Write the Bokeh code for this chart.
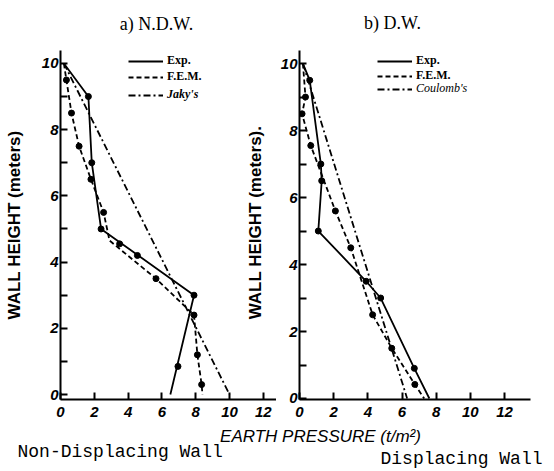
from math import pi
from bokeh.plotting import figure
from bokeh.layouts import column, row
from bokeh.models import Label, Legend, LegendItem, FixedTicker, Range1d
from bokeh.embed import file_html
from bokeh.resources import INLINE

# ---------------- data: a) N.D.W. (non-displacing wall) ----------------
ndw_exp_x = [0.2, 1.65, 1.85, 2.4, 7.9, 6.5]
ndw_exp_y = [10.0, 9.0, 7.0, 5.0, 3.0, 0.0]
ndw_exp_mx = [1.65, 1.85, 2.4, 3.5, 4.55, 7.9, 6.95]
ndw_exp_my = [9.0, 7.0, 5.0, 4.55, 4.2, 3.0, 0.85]

ndw_fem_x = [0.2, 0.35, 0.65, 1.1, 1.8, 2.55, 2.9, 5.65, 7.9, 8.1, 8.35, 8.4]
ndw_fem_y = [10.0, 9.5, 8.5, 7.5, 6.5, 5.5, 4.65, 3.5, 2.4, 1.2, 0.3, 0.0]
ndw_fem_mx = [0.35, 0.65, 1.1, 1.8, 2.55, 5.65, 7.9, 8.1, 8.35]
ndw_fem_my = [9.5, 8.5, 7.5, 6.5, 5.5, 3.5, 2.4, 1.2, 0.3]

ndw_jaky_x = [0.2, 10.0]
ndw_jaky_y = [10.0, 0.0]

# ---------------- data: b) D.W. (displacing wall) ----------------
dw_exp_x = [0.2, 0.6, 1.25, 1.3, 1.1, 3.9, 4.75, 6.72, 7.6]
dw_exp_y = [10.0, 9.5, 7.0, 6.5, 5.0, 3.5, 3.0, 0.9, 0.0]
dw_exp_mx = [0.6, 1.25, 1.3, 1.1, 3.9, 4.75, 6.72]
dw_exp_my = [9.5, 7.0, 6.5, 5.0, 3.5, 3.0, 0.9]

dw_fem_x = [0.2, 0.35, 0.15, 0.66, 2.1, 3.0, 4.28, 5.4, 6.75, 7.3]
dw_fem_y = [10.0, 9.0, 8.5, 7.55, 5.6, 4.5, 2.5, 1.5, 0.42, 0.0]
dw_fem_mx = [0.35, 0.15, 0.66, 2.1, 3.0, 4.28, 5.4, 6.75]
dw_fem_my = [9.0, 8.5, 7.55, 5.6, 4.5, 2.5, 1.5, 0.42]

dw_coul_x = [0.2, 6.3]
dw_coul_y = [10.0, 0.0]

x_ticks = [0, 2, 4, 6, 8, 10, 12]
y_ticks = [0, 2, 4, 6, 8, 10]
y_minor = [1, 3, 5, 7, 9]

FONT = "Liberation Sans"
SERIF = "Liberation Serif"


def style_axes(p):
    for ax in (p.xaxis[0], p.yaxis[0]):
        ax.axis_line_width = 2
        ax.axis_line_color = "black"
        ax.major_tick_in = 7
        ax.major_tick_out = 0
        ax.major_tick_line_width = 2
        ax.major_tick_line_color = "black"
        ax.minor_tick_in = 7
        ax.minor_tick_out = 0
        ax.minor_tick_line_width = 2
        ax.minor_tick_line_color = "black"
        ax.major_label_text_font = FONT
        ax.major_label_text_font_style = "bold italic"
        ax.major_label_text_font_size = "15px"
        ax.major_label_text_color = "black"
    p.xaxis[0].ticker = FixedTicker(ticks=x_ticks)
    p.yaxis[0].ticker = FixedTicker(ticks=y_ticks, minor_ticks=y_minor)
    p.xaxis[0].major_label_standoff = 7
    p.yaxis[0].major_label_standoff = 2
    p.grid.visible = False
    p.outline_line_color = None


def add_series(p, lx, ly, mx, my, dash):
    r = p.line(lx, ly, line_color="black", line_width=1.8, line_dash=dash)
    if mx:
        p.scatter(mx, my, size=6, color="black")
    return r


def make_legend(items, loc, spacing, style):
    return Legend(items=items, location=loc, margin=0, padding=0, spacing=spacing,
                  glyph_width=35, glyph_height=12, label_height=12, label_standoff=4,
                  border_line_color=None, background_fill_alpha=0,
                  label_text_font=SERIF, label_text_font_style=style,
                  label_text_font_size="12px", label_text_color="black")


def blank_figure(w, h):
    f = figure(width=w, height=h, x_range=Range1d(0, 1), y_range=Range1d(0, 1),
               output_backend="svg", toolbar_location=None, min_border=0,
               x_axis_location=None, y_axis_location=None)
    f.grid.visible = False
    f.outline_line_color = None
    return f


# ---------------- panel titles ----------------
pt = blank_figure(550, 40)
pt.add_layout(Label(x=156, y=17, x_units="screen", y_units="screen", text="a) N.D.W.",
                    text_align="center", text_baseline="middle", text_font=SERIF,
                    text_font_size="18px", text_color="black"))
pt.add_layout(Label(x=392, y=18, x_units="screen", y_units="screen", text="b) D.W.",
                    text_align="center", text_baseline="middle", text_font=SERIF,
                    text_font_size="18px", text_color="black"))

# ---------------- left panel ----------------
pa = figure(width=276, height=385, x_range=Range1d(0, 12.78), y_range=Range1d(-0.15, 10.39),
            output_backend="svg", toolbar_location=None,
            min_border_left=60, min_border_right=0, min_border_top=10, min_border_bottom=26)
style_axes(pa)
pa.yaxis[0].axis_label = "WALL HEIGHT (meters)"
pa.yaxis[0].axis_label_text_font = FONT
pa.yaxis[0].axis_label_text_font_style = "bold"
pa.yaxis[0].axis_label_text_font_size = "17px"
pa.yaxis[0].axis_label_text_color = "black"
pa.yaxis[0].axis_label_standoff = 15

ra1 = add_series(pa, ndw_exp_x, ndw_exp_y, ndw_exp_mx, ndw_exp_my, "solid")
ra2 = add_series(pa, ndw_fem_x, ndw_fem_y, ndw_fem_mx, ndw_fem_my, "5 3")
ra3 = add_series(pa, ndw_jaky_x, ndw_jaky_y, None, None, "7 3 2 3")

pa.add_layout(make_legend([LegendItem(label="Exp.", renderers=[ra1]),
                           LegendItem(label="F.E.M.", renderers=[ra2])],
                          (68, 315), 1, "bold"), "center")
pa.add_layout(make_legend([LegendItem(label="Jaky's", renderers=[ra3])],
                          (68, 297), 0, "bold italic"), "center")

# y-axis title of the right panel, which sits in the gap between the two panels
pa.add_layout(Label(x=195, y=177, x_units="screen", y_units="screen", angle=pi / 2,
                    text="WALL HEIGHT (meters).", text_align="center", text_baseline="middle",
                    text_font=FONT, text_font_style="bold", text_font_size="17px",
                    text_color="black"))

# ---------------- right panel ----------------
pb = figure(width=274, height=385, x_range=Range1d(0, 13.52), y_range=Range1d(-0.03, 10.39),
            output_backend="svg", toolbar_location=None,
            min_border_left=23, min_border_right=20, min_border_top=10, min_border_bottom=26)
style_axes(pb)

rb1 = add_series(pb, dw_exp_x, dw_exp_y, dw_exp_mx, dw_exp_my, "solid")
rb2 = add_series(pb, dw_fem_x, dw_fem_y, dw_fem_mx, dw_fem_my, "5 3")
rb3 = add_series(pb, dw_coul_x, dw_coul_y, None, None, "7 3 2 3")

pb.add_layout(make_legend([LegendItem(label="Exp.", renderers=[rb1]),
                           LegendItem(label="F.E.M.", renderers=[rb2])],
                          (78, 316), 0, "bold"), "center")
pb.add_layout(make_legend([LegendItem(label="Coulomb's", renderers=[rb3])],
                          (78, 303), 0, "italic"), "center")

# ---------------- bottom captions ----------------
pc = blank_figure(550, 44)
pc.add_layout(Label(x=320, y=33, x_units="screen", y_units="screen", text="EARTH PRESSURE (t/m²)",
                    text_align="center", text_baseline="middle", text_font=FONT,
                    text_font_style="italic", text_font_size="17px", text_color="black"))
pc.add_layout(Label(x=17, y=18, x_units="screen", y_units="screen", text="Non-Displacing Wall",
                    text_align="left", text_baseline="middle", text_font="Liberation Mono",
                    text_font_size="18px", text_color="black"))
pc.add_layout(Label(x=380, y=11, x_units="screen", y_units="screen", text="Displacing Wall",
                    text_align="left", text_baseline="middle", text_font="Liberation Mono",
                    text_font_size="18px", text_color="black"))

layout = column(pt, row(pa, pb), pc)
open("out.html", "w").write(file_html(layout, INLINE))
